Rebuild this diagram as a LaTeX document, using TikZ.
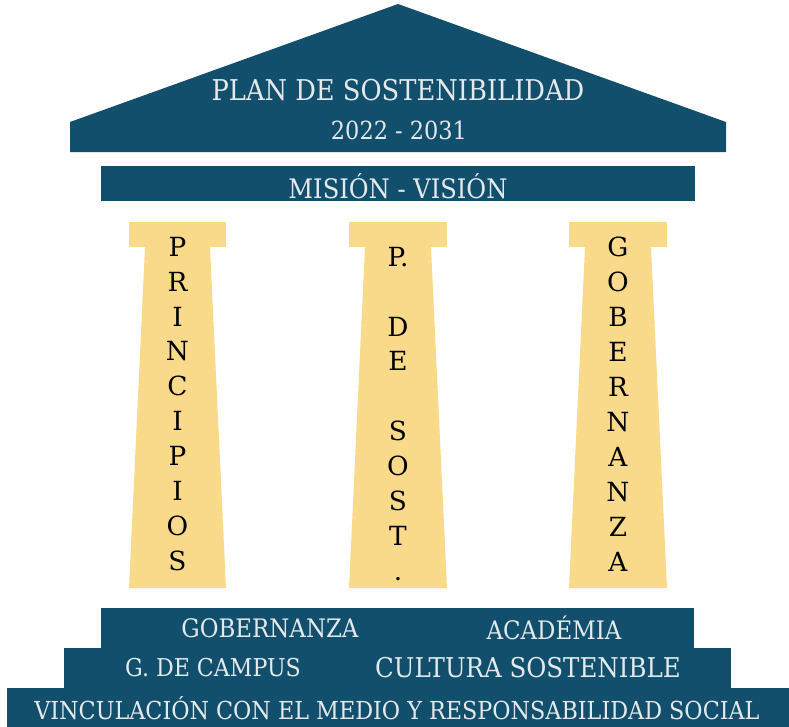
\documentclass[tikz,border=0pt]{standalone}
\usepackage{fontspec}
\setmainfont{DejaVu Serif}
\newfontfamily\headfont{DejaVu Serif Condensed}
\definecolor{templeblue}{HTML}{114F6C}
\definecolor{pillaryellow}{HTML}{F9DA8B}
\definecolor{headwhite}{HTML}{E4E9EC}
\tikzset{
  headtext/.style={text=headwhite,font=\headfont\fontsize{14.5}{16}\selectfont,inner sep=0pt},
  pillartext/.style={text=black,align=center,inner sep=0pt,font=\fontsize{15}{19.9}\selectfont}
}
\begin{document}
\begin{tikzpicture}[x=0.02cm,y=-0.02cm]
		\useasboundingbox (0,0) rectangle (789,727);
		% techo
		\fill[templeblue] (70,152) -- (70,122) -- (398,4) -- (726,122) -- (726,152) -- cycle;
		\fill[templeblue] (101,166) rectangle (695,201);
		\node[headtext,font=\headfont\fontsize{16.3}{18}\selectfont] (plan) at (398,90) {PLAN DE SOSTENIBILIDAD};
		\node[headtext,font=\headfont\fontsize{14.2}{16}\selectfont] (years) at (399,130) {2022 - 2031};
		\node[headtext,font=\headfont\fontsize{15.3}{17}\selectfont] (mision) at (398,186) {MISIÓN - VISIÓN};
		% pilares
		\fill[pillaryellow] (129,222) rectangle (226,247);
		\fill[pillaryellow] (145,247) -- (210,247) -- (226,588) -- (129,588) -- cycle;
		\fill[pillaryellow] (349,222) rectangle (447,247);
		\fill[pillaryellow] (365,247) -- (431,247) -- (447,588) -- (349,588) -- cycle;
		\fill[pillaryellow] (569,222) rectangle (667,247);
		\fill[pillaryellow] (585,247) -- (651,247) -- (667,588) -- (569,588) -- cycle;
		\node[pillartext] (principios) at (177.5,404) {P\\R\\I\\N\\C\\I\\P\\I\\O\\S};
		\node[pillartext] (psost) at (398,414) {P.\\\mbox{}\\D\\E\\\mbox{}\\S\\O\\S\\T\\.};
		\node[pillartext] (gobernanza) at (618,404) {G\\O\\B\\E\\R\\N\\A\\N\\Z\\A};
		% base
		\fill[templeblue] (101,608) rectangle (694,648);
		\fill[templeblue] (64,648) rectangle (731,688);
		\fill[templeblue] (7,688) rectangle (789,727);
		\node[headtext] (gob) at (270,628) {GOBERNANZA};
		\node[headtext] (acad) at (554,628) {ACADÉMIA};
		\node[headtext,font=\headfont\fontsize{14}{16}\selectfont] (campus) at (213,668) {G. DE CAMPUS};
		\node[headtext,font=\headfont\fontsize{15.5}{17}\selectfont] (cultura) at (528,668) {CULTURA SOSTENIBLE};
		\node[headtext,font=\headfont\fontsize{14.1}{16}\selectfont] (vinc) at (397,708) {VINCULACIÓN CON EL MEDIO Y RESPONSABILIDAD SOCIAL};
		\end{tikzpicture}
\end{document}
